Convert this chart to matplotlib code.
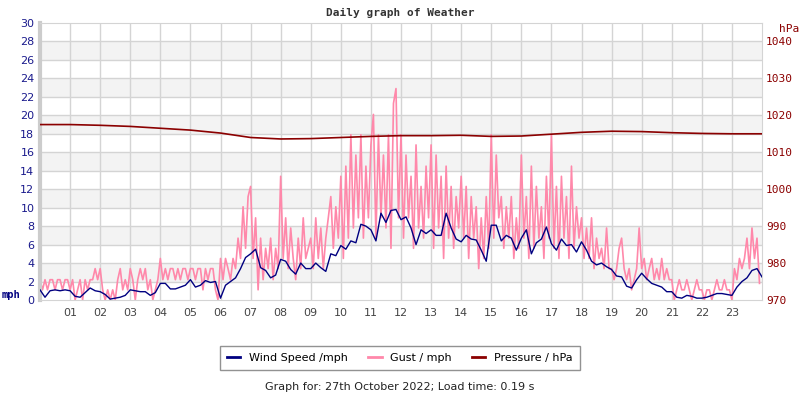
import numpy as np
import matplotlib
matplotlib.use("Agg")
import matplotlib.pyplot as plt

# wind speed, mph, 10 minute samples (6 per hour)
wind = [
    [1.1, 0.3, 1.0, 1.1, 1.0, 1.1],
    [1.0, 0.4, 0.3, 0.8, 1.3, 1.0],
    [0.9, 0.6, 0.1, 0.2, 0.3, 0.5],
    [1.1, 1.0, 0.9, 0.9, 0.5, 0.8],
    [1.8, 1.8, 1.2, 1.2, 1.4, 1.6],
    [2.2, 1.4, 1.6, 2.1, 1.9, 2.0],
    [0.2, 1.6, 2.0, 2.4, 3.4, 4.6],
    [5.0, 5.5, 3.5, 3.2, 2.4, 2.7],
    [4.4, 4.2, 3.3, 2.8, 4.0, 3.4],
    [3.4, 4.0, 3.5, 3.1, 5.0, 4.8],
    [5.9, 5.5, 6.4, 6.2, 8.2, 8.0],
    [7.6, 6.4, 9.4, 8.4, 9.7, 9.8],
    [8.7, 9.0, 7.8, 6.0, 7.6, 7.2],
    [7.6, 7.0, 7.0, 9.4, 7.8, 6.6],
    [6.3, 7.0, 6.6, 6.5, 5.4, 4.2],
    [8.1, 8.1, 6.4, 7.0, 6.7, 5.4],
    [6.7, 7.6, 5.0, 6.2, 6.6, 7.9],
    [6.1, 5.4, 6.6, 5.9, 6.0, 5.2],
    [6.3, 5.4, 4.2, 3.8, 4.0, 3.6],
    [3.3, 2.6, 2.5, 1.5, 1.3, 2.2],
    [2.9, 2.3, 1.8, 1.6, 1.4, 0.9],
    [0.9, 0.3, 0.2, 0.5, 0.4, 0.2],
    [0.2, 0.3, 0.5, 0.7, 0.7, 0.6],
    [0.5, 1.4, 2.0, 2.4, 3.2, 3.4],
]
wind_last = 2.5

# gusts, mph, 5 minute samples (12 per hour)
gust = [
    [2.2, 1.1, 2.2, 1.1, 2.2, 2.2, 1.1, 2.2, 2.2, 1.1, 2.2, 2.2],
    [1.1, 2.2, 0.0, 1.1, 2.2, 0.0, 2.2, 1.1, 2.2, 2.2, 3.4, 2.2],
    [3.4, 1.1, 0.0, 1.1, 0.0, 1.1, 0.0, 2.2, 3.4, 1.1, 2.2, 1.1],
    [3.4, 2.2, 0.0, 2.2, 3.4, 2.2, 3.4, 1.1, 2.2, 0.0, 1.1, 2.2],
    [4.5, 2.2, 3.4, 2.2, 3.4, 3.4, 2.2, 3.4, 2.2, 3.4, 3.4, 2.2],
    [3.4, 3.4, 2.2, 3.4, 3.4, 1.1, 3.4, 2.2, 3.4, 3.4, 1.1, 0.0],
    [4.5, 2.2, 4.5, 3.4, 2.2, 4.5, 3.4, 6.7, 4.5, 10.1, 5.6, 11.2],
    [12.3, 4.5, 8.9, 1.1, 6.7, 2.2, 5.6, 3.4, 6.7, 2.2, 5.6, 3.4],
    [13.4, 4.5, 8.9, 3.4, 7.8, 4.5, 2.2, 6.7, 3.4, 8.9, 4.5, 5.6],
    [6.7, 3.4, 8.9, 4.5, 7.8, 3.4, 6.7, 8.9, 11.2, 5.6, 10.1, 6.7],
    [13.4, 4.5, 14.5, 6.7, 17.9, 7.8, 15.7, 8.9, 17.9, 6.7, 14.5, 8.9],
    [16.8, 20.1, 6.7, 17.9, 8.9, 15.7, 7.8, 17.9, 5.6, 21.3, 22.9, 8.9],
    [17.9, 6.7, 15.7, 8.9, 13.4, 5.6, 16.8, 7.8, 12.3, 6.7, 14.5, 8.9],
    [16.8, 5.6, 15.7, 7.8, 13.4, 4.5, 14.5, 6.7, 12.3, 5.6, 11.2, 7.8],
    [13.4, 6.7, 12.3, 4.5, 11.2, 6.7, 10.1, 3.4, 8.9, 4.5, 11.2, 5.6],
    [17.9, 6.7, 15.7, 8.9, 11.2, 5.6, 10.1, 6.7, 11.2, 4.5, 8.9, 5.6],
    [15.7, 6.7, 11.2, 4.5, 14.5, 5.6, 12.3, 6.7, 10.1, 4.5, 13.4, 6.7],
    [17.9, 5.6, 12.3, 4.5, 13.4, 6.7, 11.2, 4.5, 14.5, 5.6, 10.1, 6.7],
    [8.9, 4.5, 7.8, 4.5, 8.9, 3.4, 6.7, 4.5, 5.6, 3.4, 7.8, 3.4],
    [3.4, 2.2, 3.4, 5.6, 6.7, 3.4, 2.2, 3.4, 1.1, 2.2, 3.4, 7.8],
    [3.4, 4.5, 2.2, 3.4, 4.5, 2.2, 3.4, 2.2, 4.5, 2.2, 3.4, 2.2],
    [2.2, 0.0, 1.1, 2.2, 1.1, 1.1, 2.2, 1.1, 0.0, 1.1, 2.2, 1.1],
    [1.1, 0.0, 1.1, 1.1, 0.0, 1.1, 2.2, 1.1, 1.1, 2.2, 1.1, 1.1],
    [0.0, 3.4, 2.2, 4.5, 3.4, 4.5, 6.7, 3.4, 7.8, 4.5, 6.7, 1.8],
]

# pressure, hPa, hourly
pressure = [1017.5, 1017.5, 1017.3, 1017.0, 1016.5, 1016.0, 1015.2, 1014.0,
            1013.6, 1013.7, 1014.0, 1014.3, 1014.5, 1014.5, 1014.6, 1014.3,
            1014.4, 1014.9, 1015.4, 1015.7, 1015.6, 1015.3, 1015.1, 1015.0, 1015.0]

hour_labels = ["%02d" % h for h in range(1, 24)]
series_names = ["Wind Speed /mph", "Gust / mph", "Pressure / hPa"]
footer = "Graph for: 27th October 2022; Load time: 0.19 s"

wind_vals = np.append(np.ravel(wind), wind_last)
gust_vals = np.ravel(gust)
t_wind = np.arange(len(wind_vals)) / 6.0
t_gust = np.arange(len(gust_vals)) / 12.0
t_pres = np.arange(len(pressure))

NAVY = "#000080"
PINK = "#ff88aa"
DRED = "#8b0000"
GRID = "#d4d4d4"

fig = plt.figure(figsize=(8, 4), dpi=100)
ax = fig.add_axes([0.05, 0.25, 0.9025, 0.6925])

for lo in range(2, 30, 4):
    ax.axhspan(lo, lo + 2, color="#f3f3f3", lw=0, zorder=0)
for y in range(2, 30, 2):
    ax.axhline(y, color=GRID, lw=1, zorder=1)
for h in range(1, 24):
    ax.axvline(h, color=GRID, lw=1, zorder=1)

ax.plot(t_gust, gust_vals, color=PINK, lw=1.2, zorder=2)
ax.plot(t_wind, wind_vals, color=NAVY, lw=1, zorder=3)

ax.set_xlim(0, 24)
ax.set_ylim(0, 30)
ax.set_yticks(range(0, 31, 2))
ax.set_xticks(range(1, 24))
ax.set_xticklabels(hour_labels)
ax.tick_params(axis="y", length=0, labelsize=8, labelcolor="#1a1a8c", pad=4)
ax.tick_params(axis="x", length=0, labelsize=8, labelcolor="#444444", pad=6)
for s in ["top", "right", "bottom"]:
    ax.spines[s].set_color(GRID)
ax.spines["left"].set_color("#cccccc")
ax.spines["left"].set_linewidth(3)

ax2 = ax.twinx()
ax2.plot(t_pres, pressure, color=DRED, lw=1.2, zorder=4)
ax2.set_ylim(970, 1045)
ax2.set_yticks(range(970, 1041, 10))
ax2.tick_params(axis="y", length=0, labelsize=8, labelcolor=DRED, pad=3)
for lab in ax2.get_yticklabels():
    lab.set_family("DejaVu Sans Mono")
for s in ax2.spines.values():
    s.set_visible(False)

fig.text(0.5, 0.968, "Daily graph of Weather", ha="center", va="center",
         family="DejaVu Sans Mono", fontweight="bold", fontsize=8, color="#333333")
fig.text(0.002, 0.262, "mph", ha="left", va="center", fontweight="bold",
         fontsize=7.5, color=NAVY, family="DejaVu Sans Mono")
fig.text(0.974, 0.927, "hPa", ha="left", va="center", fontsize=8,
         color=DRED, family="DejaVu Sans Mono")

handles = [plt.Line2D([], [], color=c, lw=2) for c in (NAVY, PINK, DRED)]
leg = fig.legend(handles, series_names, loc="center", bbox_to_anchor=(0.5, 0.105),
                 ncol=3, fontsize=8, frameon=True, fancybox=False,
                 handlelength=1.2, columnspacing=1.8, handletextpad=0.8,
                 borderpad=0.6)
leg.get_frame().set_edgecolor("#777777")
leg.get_frame().set_linewidth(1)

fig.text(0.5, 0.033, footer, ha="center", va="center", fontsize=8, color="#222222")

fig.savefig("out.png", dpi=100)
